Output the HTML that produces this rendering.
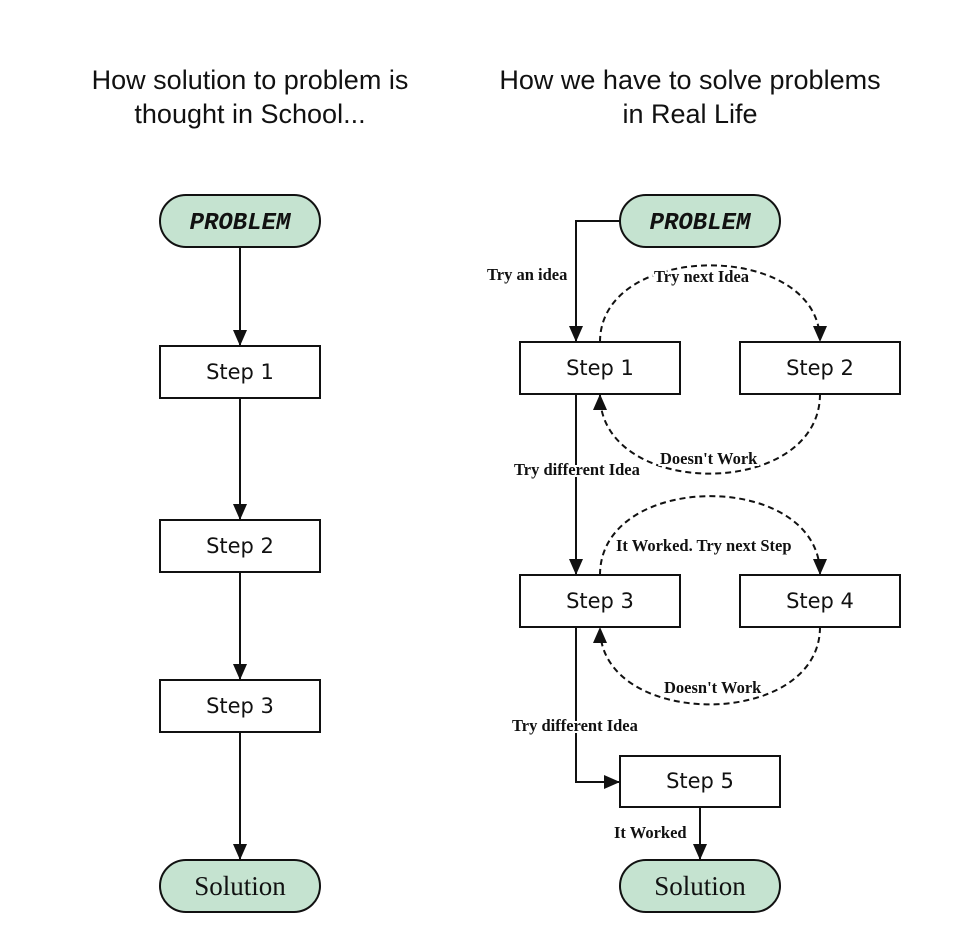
<!DOCTYPE html>
<html><head><meta charset="utf-8"><style>
html,body{margin:0;padding:0;background:#fff;}
svg{display:block;}
.t{font-family:"Liberation Sans",sans-serif;font-size:27px;fill:#111;text-anchor:middle;}
.s{font-family:"DejaVu Sans","Liberation Sans",sans-serif;font-size:21px;fill:#111;text-anchor:middle;}
.p{font-family:"Liberation Mono",monospace;font-weight:bold;font-size:24px;fill:#111;text-anchor:middle;font-style:italic;}
.sol{font-family:"Liberation Serif",serif;font-size:27px;fill:#111;text-anchor:middle;}
.l{font-family:"Liberation Serif",serif;font-weight:bold;font-size:16.5px;fill:#111;stroke:#fff;stroke-width:4px;paint-order:stroke;}
.box{fill:#fff;stroke:#111;stroke-width:2;}
.pill{fill:#c5e3d0;stroke:#111;stroke-width:2;}
.ln{fill:none;stroke:#111;stroke-width:2;}
.ds{fill:none;stroke:#111;stroke-width:2;stroke-dasharray:6,4;}
</style></head><body>
<svg width="960" height="952" viewBox="0 0 960 952">
<defs><marker id="a" markerWidth="16" markerHeight="14" refX="15" refY="7" orient="auto" markerUnits="userSpaceOnUse"><path d="M0,0 L16,7 L0,14 z" fill="#111"/></marker></defs>
<text class="t" x="250" y="89">How solution to problem is</text>
<text class="t" x="250" y="123">thought in School...</text>
<text class="t" x="690" y="89">How we have to solve problems</text>
<text class="t" x="690" y="123">in Real Life</text>

<!-- left -->
<line class="ln" x1="240" y1="247" x2="240" y2="345" marker-end="url(#a)"/>
<line class="ln" x1="240" y1="398" x2="240" y2="519" marker-end="url(#a)"/>
<line class="ln" x1="240" y1="572" x2="240" y2="679" marker-end="url(#a)"/>
<line class="ln" x1="240" y1="732" x2="240" y2="859" marker-end="url(#a)"/>
<rect class="pill" x="160" y="195" width="160" height="52" rx="26"/>
<text class="p" x="240" y="229">PROBLEM</text>
<rect class="box" x="160" y="346" width="160" height="52"/><text class="s" x="240" y="379">Step 1</text>
<rect class="box" x="160" y="520" width="160" height="52"/><text class="s" x="240" y="553">Step 2</text>
<rect class="box" x="160" y="680" width="160" height="52"/><text class="s" x="240" y="713">Step 3</text>
<rect class="pill" x="160" y="860" width="160" height="52" rx="26"/>
<text class="sol" x="240" y="895">Solution</text>

<!-- right -->
<polyline class="ln" points="620,221 576,221 576,341" marker-end="url(#a)"/>
<path class="ds" d="M600,342 C600,240 820,240 820,341" marker-end="url(#a)"/>
<path class="ds" d="M820,394 C820,500 600,500 600,395" marker-end="url(#a)"/>
<line class="ln" x1="576" y1="394" x2="576" y2="574" marker-end="url(#a)"/>
<path class="ds" d="M600,575 C600,470 820,470 820,574" marker-end="url(#a)"/>
<path class="ds" d="M820,627 C820,730 600,730 600,628" marker-end="url(#a)"/>
<polyline class="ln" points="576,627 576,782 619,782" marker-end="url(#a)"/>
<line class="ln" x1="700" y1="807" x2="700" y2="859" marker-end="url(#a)"/>

<rect class="pill" x="620" y="195" width="160" height="52" rx="26"/>
<text class="p" x="700" y="229">PROBLEM</text>
<rect class="box" x="520" y="342" width="160" height="52"/><text class="s" x="600" y="375">Step 1</text>
<rect class="box" x="740" y="342" width="160" height="52"/><text class="s" x="820" y="375">Step 2</text>
<rect class="box" x="520" y="575" width="160" height="52"/><text class="s" x="600" y="608">Step 3</text>
<rect class="box" x="740" y="575" width="160" height="52"/><text class="s" x="820" y="608">Step 4</text>
<rect class="box" x="620" y="756" width="160" height="51"/><text class="s" x="700" y="788">Step 5</text>
<rect class="pill" x="620" y="860" width="160" height="52" rx="26"/>
<text class="sol" x="700" y="895">Solution</text>

<text class="l" x="487" y="280">Try an idea</text>
<text class="l" x="654" y="282">Try next Idea</text>
<text class="l" x="660" y="464">Doesn't Work</text>
<text class="l" x="514" y="475">Try different Idea</text>
<text class="l" x="616" y="551">It Worked. Try next Step</text>
<text class="l" x="664" y="693">Doesn't Work</text>
<text class="l" x="512" y="731">Try different Idea</text>
<text class="l" x="614" y="838">It Worked</text>
</svg>
</body></html>
